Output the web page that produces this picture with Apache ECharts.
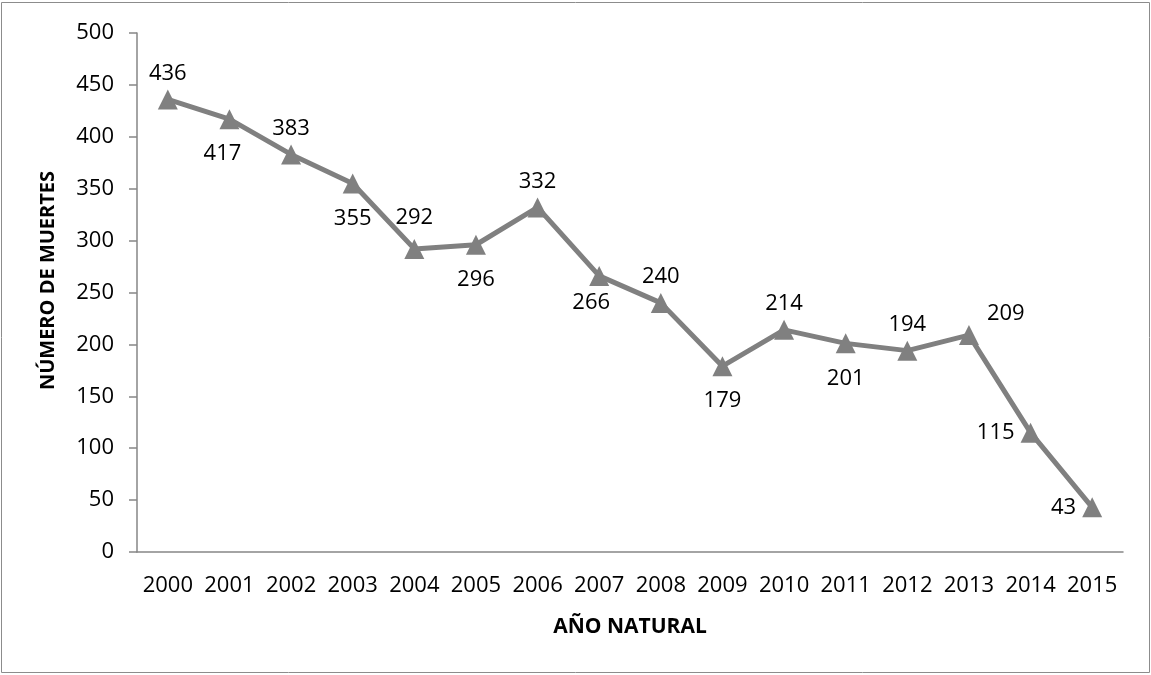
<!DOCTYPE html>
<html><head><meta charset="utf-8">
<script src="https://cdn.jsdelivr.net/npm/echarts@6/dist/echarts.min.js"></script>
<style>html,body{margin:0;padding:0;background:#fff}#c{width:1151px;height:675px}</style>
</head><body><div id="c"></div>
<script>
const years = ['2000','2001','2002','2003','2004','2005','2006','2007','2008','2009','2010','2011','2012','2013','2014','2015'];
const deaths = [436,417,383,355,292,296,332,266,240,179,214,201,194,209,115,43];
const labelPos = ['top','bottom','top','bottom','top','bottom','top','bottom','top','bottom','top','bottom','top','right','left','left'];
const yTicks = {min:0, max:500, interval:50};

const font = '"Open Sans", "Noto Sans", sans-serif';
const labelFor = (p, i) => {
  if (i === 1) return {position:'bottom', distance:14, offset:[-7,0]};
  if (i === 4) return {position:'top', distance:10};
  if (i === 7) return {position:'bottom', distance:6, offset:[-8,0]};
  if (p === 'top') return {position:'top', distance:5};
  if (p === 'bottom') return {position:'bottom', distance:14};
  if (p === 'right') return {position:'right', distance:8, offset:[0,-21]};
  return {position:p, distance:6};
};

const chart = echarts.init(document.getElementById('c'));
chart.setOption({
  animation:false,
  graphic:[{type:'rect',shape:{x:1.5,y:2.5,width:1148,height:670},style:{fill:'none',stroke:'#8c8c8c',lineWidth:1}}],
  grid:{left:137,right:28,top:33,bottom:123},
  xAxis:{type:'category',data:years,boundaryGap:true,
    axisLine:{lineStyle:{color:'#868686',width:1.5}},axisTick:{show:false},
    axisLabel:{color:'#000',fontSize:22,fontFamily:font,margin:23,interval:0,hideOverlap:false},
    name:'AÑO NATURAL',nameLocation:'middle',nameGap:65,
    nameTextStyle:{color:'#000',fontSize:21,fontWeight:'bold',fontFamily:font}},
  yAxis:{type:'value',min:yTicks.min,max:yTicks.max,interval:yTicks.interval,
    axisLine:{show:true,lineStyle:{color:'#868686',width:1.5}},
    axisTick:{show:true,length:8,lineStyle:{color:'#868686',width:1.5}},
    splitLine:{show:false},
    axisLabel:{color:'#000',fontSize:22,fontFamily:font,margin:23},
    name:'NÚMERO DE MUERTES',nameLocation:'middle',nameGap:79,
    nameTextStyle:{color:'#000',fontSize:20,fontWeight:'bold',fontFamily:font,padding:[0,0,0,24]}},
  series:[{type:'line',
    data:deaths.map((v,i)=>({value:v,label:labelFor(labelPos[i], i)})),
    symbol:'triangle',symbolSize:20,
    lineStyle:{color:'#808080',width:5},
    itemStyle:{color:'#808080'},
    label:{show:true,color:'#000',fontSize:22,fontFamily:font}
  }]
});
</script></body></html>
